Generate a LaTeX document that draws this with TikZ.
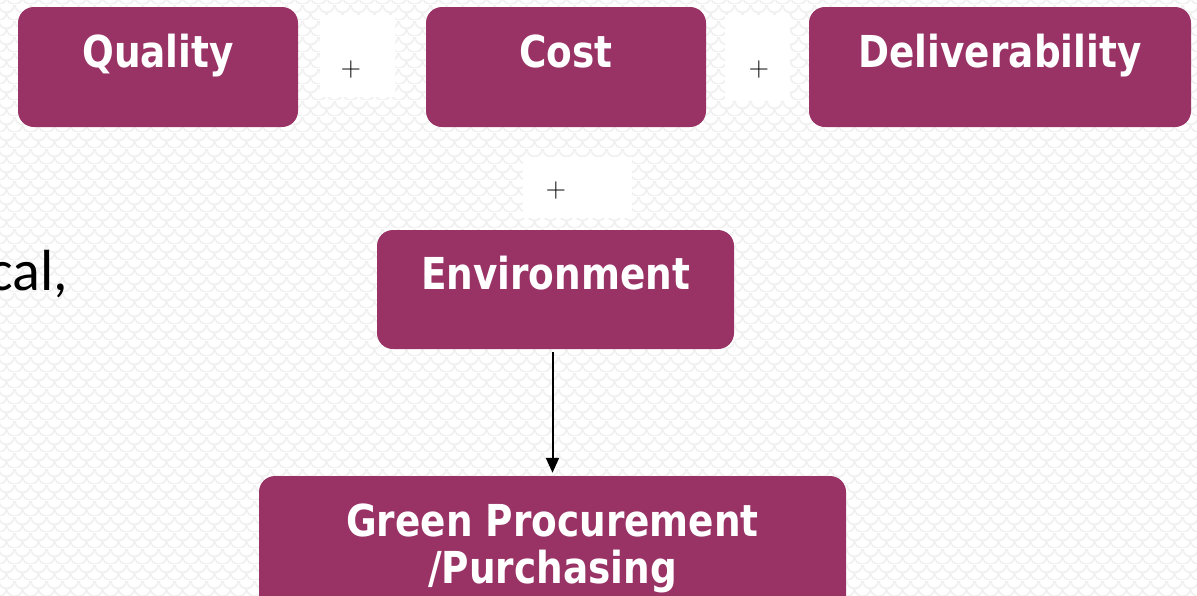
\documentclass[tikz,border=0pt]{standalone}
\usepackage{fontspec}
\newfontfamily\boxfont[FakeStretch=0.85]{DejaVu Sans}
\newfontfamily\bodyfont{Carlito}
\usetikzlibrary{patterns,arrows.meta}
\definecolor{plum}{RGB}{153,51,102}
\definecolor{scalegray}{RGB}{240,240,240}
\pgfdeclarepatternformonly{scales}{\pgfqpoint{0pt}{0pt}}{\pgfqpoint{16pt}{16pt}}{\pgfqpoint{16pt}{16pt}}{%
  \pgfsetlinewidth{1.8pt}%
  \pgfpathmoveto{\pgfqpoint{0pt}{16pt}}%
  \pgfpatharc{180}{360}{8pt}%
  \pgfpathmoveto{\pgfqpoint{0pt}{0pt}}%
  \pgfpatharc{270}{360}{8pt}%
  \pgfpathmoveto{\pgfqpoint{8pt}{8pt}}%
  \pgfpatharc{180}{270}{8pt}%
  \pgfusepath{stroke}}
\tikzset{
  box/.style={fill=plum, rounded corners=16pt, text=white, inner sep=0pt,
    font=\fontsize{44}{47}\selectfont\boxfont\bfseries,
    text height=20pt, text depth=20pt},
  plusbg/.style={fill=white, inner sep=0pt},
  plussign/.style={inner sep=0pt, font=\fontsize{28}{30}\selectfont},
  flow/.style={line width=2pt, -{Triangle[length=15pt,width=13pt]}}
}
\begin{document}
\begin{tikzpicture}[x=1pt,y=-1pt]
\useasboundingbox (0,0) rectangle (1197,595);
\clip (0,0) rectangle (1197,595);
\fill[white] (0,0) rectangle (1197,595);
\fill[pattern=scales, pattern color=scalegray] (0,0) rectangle (1197,595);

% left partial text
\node[font=\fontsize{58}{60}\selectfont\bodyfont, anchor=base west, inner sep=0pt] (cal) at (-12,290) {cal,};

% plus signs with white backgrounds
\node[plusbg, minimum width=75pt, minimum height=82pt] (pb1) at (357,56) {};
\node[plusbg, minimum width=65pt, minimum height=85pt] (pb2) at (757,57) {};
\node[plusbg, minimum width=109pt, minimum height=61pt] (pb3) at (577,187) {};
\node[plussign, anchor=base] (p1) at (351,76) {+};
\node[plussign, anchor=base] (p2) at (759,76) {+};
\node[plussign, anchor=base] (p3) at (556,197) {+};

% boxes
\node[box, minimum width=280pt, minimum height=120pt] (q) at (158,67) {Quality};
\node[box, minimum width=280pt, minimum height=120pt] (c) at (566,67) {Cost};
\node[box, minimum width=382pt, minimum height=120pt] (d) at (1000,67) {Deliverability};
\node[box, minimum width=357pt, minimum height=119pt] (e) at (555.5,289.5) {Environment};
\node[box, minimum width=587pt, minimum height=140pt, align=center,
      text height=83pt, text depth=9pt] (g) at (552.5,546) {Green Procurement\\/Purchasing};

% arrow
\draw[flow, shorten <=3pt, shorten >=3pt] (e.south -| g.north) -- (g.north);
\end{tikzpicture}
\end{document}
